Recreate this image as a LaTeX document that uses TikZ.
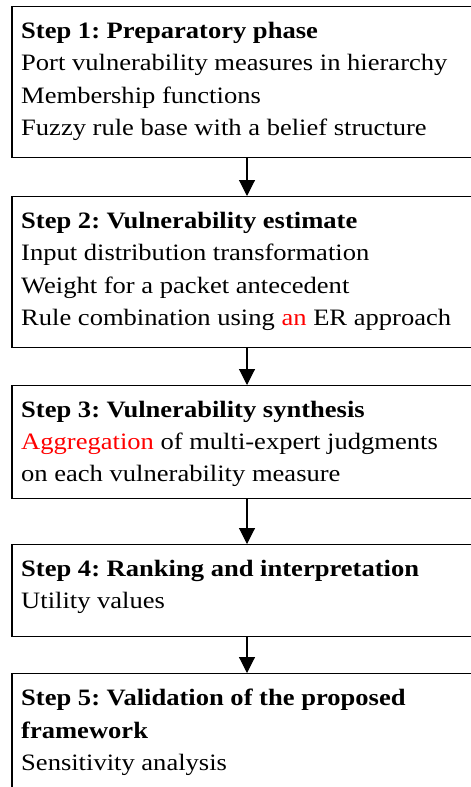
\documentclass[tikz,border=0pt]{standalone}
\usepackage{fontspec}
\setmainfont{Liberation Serif}[FakeStretch=1.13]
\usetikzlibrary{arrows.meta}
\frenchspacing
\begin{document}
\begin{tikzpicture}[x=1pt,y=1pt,
  stepframe/.style={draw=black, line width=1.1pt, minimum width=470pt, inner sep=0pt, anchor=north},
  txt/.style={anchor=base west, inner sep=0pt, font=\fontsize{23.5}{30}\selectfont},
  head/.style={txt, font=\fontsize{23.5}{30}\selectfont\bfseries},
  flow/.style={line width=1.1pt, -{Triangle[length=16pt,width=16pt]}}
]
\useasboundingbox (0,0) rectangle (471,-787);
\begin{scope}
\clip (0,0) rectangle (471,-787);
% step frames
\node[stepframe, minimum height=151pt] (b1) at (247,-6) {};
\node[stepframe, minimum height=151pt] (b2) at (247,-196) {};
\node[stepframe, minimum height=113pt] (b3) at (247,-385) {};
\node[stepframe, minimum height=92pt]  (b4) at (247,-544) {};
\node[stepframe, minimum height=130pt] (b5) at (247,-673) {};
\end{scope}
% step 1
\node[head] (h1) at (21,-38) {Step 1: Preparatory phase};
\node[txt] (l11) at (21,-70) {Port vulnerability measures in hierarchy};
\node[txt] (l12) at (21,-103) {Membership functions};
\node[txt] (l13) at (21,-135) {Fuzzy rule base with a belief structure};
% step 2
\node[head] (h2) at (21,-228) {Step 2: Vulnerability estimate};
\node[txt] (l21) at (21,-260) {Input distribution transformation};
\node[txt] (l22) at (21,-293) {Weight for a packet antecedent};
\node[txt] (l23) at (21,-325) {Rule combination using \textcolor{red}{an} ER approach};
% step 3
\node[head] (h3) at (21,-417) {Step 3: Vulnerability synthesis};
\node[txt] (l31) at (21,-449) {\textcolor{red}{Aggregation} of multi-expert judgments};
\node[txt] (l32) at (21,-481) {on each vulnerability measure};
% step 4
\node[head] (h4) at (21,-576) {Step 4: Ranking and interpretation};
\node[txt] (l41) at (21,-608) {Utility values};
% step 5
\node[head] (h5) at (21,-705) {Step 5: Validation of the proposed};
\node[head] (h5b) at (21,-738) {framework};
\node[txt] (l51) at (21,-770) {Sensitivity analysis};
% connectors
\draw[flow] (b1.south) -- (b2.north);
\draw[flow] (b2.south) -- (b3.north);
\draw[flow] (b3.south) -- (b4.north);
\draw[flow] (b4.south) -- (b5.north);
\end{tikzpicture}
\end{document}
